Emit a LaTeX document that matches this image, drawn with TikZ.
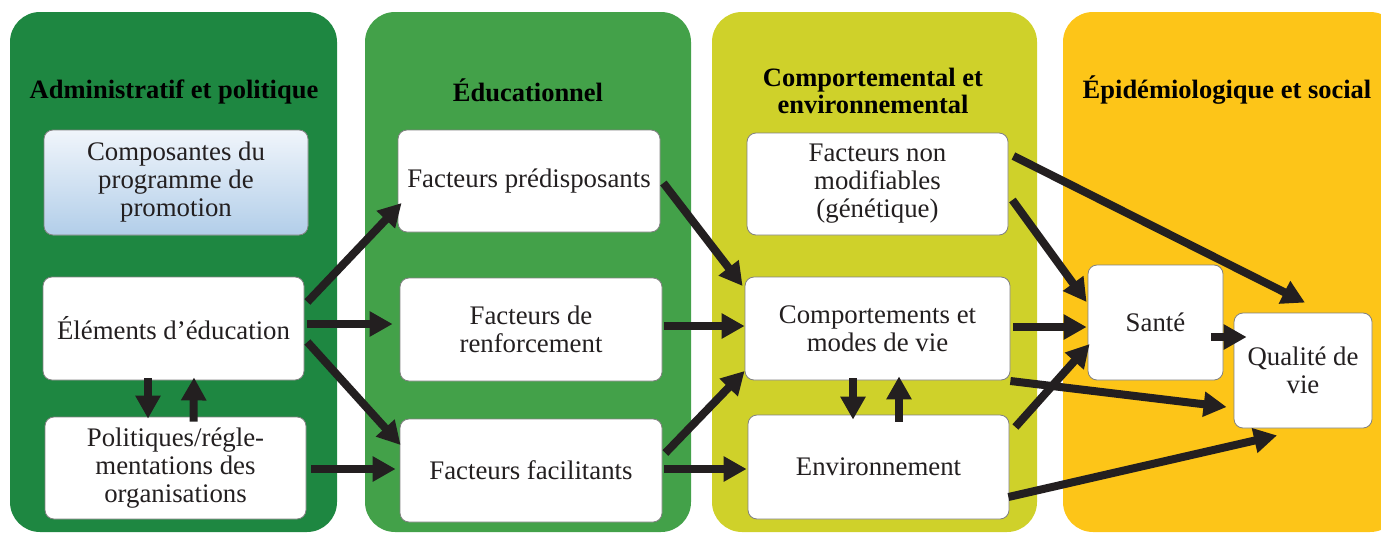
\documentclass[tikz,border=0pt]{standalone}
\usepackage{fontspec}
\setmainfont{Liberation Serif}
\usetikzlibrary{arrows.meta}

\definecolor{adm}{HTML}{1E8741}
\definecolor{edu}{HTML}{43A149}
\definecolor{cpt}{HTML}{CFD12A}
\definecolor{epi}{HTML}{FDC518}
\definecolor{ink}{HTML}{231F20}
\definecolor{boxline}{HTML}{808080}
\definecolor{bluetop}{HTML}{F0F5FB}
\definecolor{bluebot}{HTML}{B2CEE9}

\begin{document}
\begin{tikzpicture}[x=1pt,y=-1pt,
    phase/.style={rounded corners=30pt},
    title/.style={font=\fontsize{26.5}{27}\selectfont\bfseries,align=center,text=black},
    box/.style={draw=boxline,fill=white,rounded corners=9pt,line width=0.8pt,align=center,
        inner sep=0pt,font=\fontsize{26.8}{28}\selectfont,text=ink},
    arr/.style={draw=ink,line width=8pt,-{Triangle[length=23pt,width=24pt]}}]
    \useasboundingbox (0,0) rectangle (1381,533);
    \clip (0,0) rectangle (1381,533);

    % the four phases
    \fill[adm,phase] (10,12) rectangle (337,532);
    \fill[edu,phase] (365,12) rectangle (691,532);
    \fill[cpt,phase] (712,12) rectangle (1037,532);
    \fill[epi,phase] (1063,12) rectangle (1400,532);

    \node[title] (tadm) at (174,92) {Administratif et politique};
    \node[title] (tedu) at (528,90) {Éducationnel};
    \node[title] (tcpt) at (873,91) {Comportemental et\\environnemental};
    \node[title] (tepi) at (1227,90) {Épidémiologique et social};

    % boxes
    \node[box,minimum width=264pt,minimum height=105pt,top color=bluetop,bottom color=bluebot]
        (comp) at (176,182.5) {Composantes du\\programme de\\promotion};
    \node[box,minimum width=261pt,minimum height=103pt] (elem) at (173.5,328.5) {Éléments d’éducation};
    \node[box,minimum width=261pt,minimum height=102pt] (pol) at (175.5,468) {Politiques/régle-\\mentations des\\organisations};

    \node[box,minimum width=262pt,minimum height=102pt] (fpred) at (529,181) {Facteurs prédisposants};
    \node[box,minimum width=262pt,minimum height=103pt] (frenf) at (531,329.5) {Facteurs de\\renforcement};
    \node[box,minimum width=262pt,minimum height=103pt] (ffac) at (531,470.5) {Facteurs facilitants};

    \node[box,minimum width=261pt,minimum height=102pt] (fnon) at (877.5,184) {Facteurs non\\modifiables\\(génétique)};
    \node[box,minimum width=265pt,minimum height=103pt] (cmod) at (877.5,328.5) {Comportements et\\modes de vie};
    \node[box,minimum width=261pt,minimum height=104pt] (env) at (878.5,467) {Environnement};

    \node[box,minimum width=135pt,minimum height=115pt] (sante) at (1155.5,322.5) {Santé};
    \node[box,minimum width=138pt,minimum height=115pt] (qual) at (1303,370.5) {Qualité de\\vie};

    % links
    \draw[arr] ([shift={(3,-26.5)}]elem.east) -- ([shift={(4,22)}]fpred.west);
    \draw[arr] ([shift={(3,-4.5)}]elem.east) -- ([shift={(-7,-5.5)}]frenf.west);
    \draw[arr] ([shift={(3,13.5)}]elem.east) -- ([shift={(1,-25.5)}]ffac.west);
    \draw[arr] ([shift={(5,1)}]pol.east) -- ([shift={(-4,-1.5)}]ffac.west);
    \draw[arr] ([shift={(-25.5,-2)}]elem.south) -- ([shift={(-27.5,2)}]pol.north);
    \draw[arr] ([shift={(18,5)}]pol.north) -- ([shift={(20.5,-3)}]elem.south);

    \draw[arr] ([shift={(3,2)}]fpred.east) -- ([shift={(-2,-42.5)}]cmod.west);
    \draw[arr] ([shift={(2,-3.5)}]frenf.east) -- ([shift={(0,-2.5)}]cmod.west);
    \draw[arr] ([shift={(3,-17.5)}]ffac.east) -- ([shift={(0,42.5)}]cmod.west);
    \draw[arr] ([shift={(2,-1.5)}]ffac.east) -- ([shift={(-1,2)}]env.west);
    \draw[arr] ([shift={(-24.5,-2)}]cmod.south) -- ([shift={(-25.5,5)}]env.north);
    \draw[arr] ([shift={(20.5,7)}]env.north) -- ([shift={(21.5,-4)}]cmod.south);

    \draw[arr] ([shift={(5,-28)}]fnon.east) -- ([shift={(2,-10)}]qual.north);
    \draw[arr] ([shift={(4,16)}]fnon.east) -- ([shift={(-1,-20.5)}]sante.west);
    \draw[arr] ([shift={(3,-1.5)}]cmod.east) -- ([shift={(-1,4.5)}]sante.west);
    \draw[arr] ([shift={(0,52.5)}]cmod.east) -- ([shift={(-7,36.5)}]qual.west);
    \draw[arr] ([shift={(6,-40)}]env.east) -- ([shift={(2,21.5)}]sante.west);
    \draw[arr] ([shift={(-1,30)}]env.east) -- ([shift={(-26,7)}]qual.south);
    \draw[arr] ([shift={(-12,14.5)}]sante.east) -- ([shift={(13,-33.5)}]qual.west);
\end{tikzpicture}
\end{document}
